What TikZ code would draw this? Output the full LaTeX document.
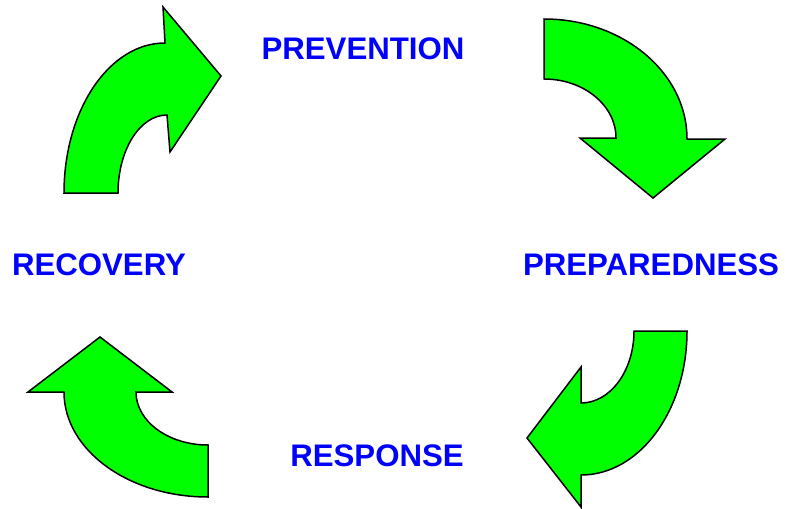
\documentclass[tikz,border=0pt]{standalone}
\usepackage{fontspec}
\setmainfont{Liberation Sans}
\definecolor{arrowgreen}{RGB}{0,255,0}
\definecolor{labelblue}{RGB}{0,0,255}
\begin{document}
\begin{tikzpicture}[x=1pt,y=-1pt,
  cyclearrow/.style={draw=black,fill=arrowgreen,line width=1.5pt,line join=miter},
  phase/.style={text=labelblue,font=\bfseries\fontsize{31.2}{36}\selectfont,anchor=base,inner sep=0pt}]
\useasboundingbox[fill=white] (0,0) rectangle (786,508);

% phase labels
\node[phase] (prevention) at (363,60) {PREVENTION};
\node[phase] (preparedness) at (651,275) {PREPAREDNESS};
\node[phase] (response) at (377,466) {RESPONSE};
\node[phase] (recovery) at (99,275) {RECOVERY};

% curved arrow: recovery -> prevention
\draw[cyclearrow] (64,193) -- (118,193)
  arc[start angle=180,end angle=270,x radius=49,y radius=78]
  -- (170,152) -- (221,76) -- (163,7) -- (165,43)
  arc[start angle=270,end angle=180,x radius=101,y radius=150] -- cycle;

% curved arrow: prevention -> preparedness
\draw[cyclearrow] (544,19)
  arc[start angle=270,end angle=360,x radius=143,y radius=120]
  -- (725,139) -- (653,198) -- (580,138) -- (616,138)
  arc[start angle=0,end angle=-90,x radius=72,y radius=59] -- cycle;

% curved arrow: preparedness -> response
\draw[cyclearrow] (687,331)
  arc[start angle=0,end angle=90,x radius=106,y radius=144]
  -- (581,507) -- (527,438) -- (581,367) -- (581,403)
  arc[start angle=90,end angle=0,x radius=53,y radius=72] -- cycle;

% curved arrow: response -> recovery
\draw[cyclearrow] (100,337) -- (172,392) -- (136,392)
  arc[start angle=180,end angle=90,x radius=72,y radius=53]
  -- (208,497)
  arc[start angle=90,end angle=180,x radius=144,y radius=105]
  -- (28,392) -- cycle;
\end{tikzpicture}
\end{document}
